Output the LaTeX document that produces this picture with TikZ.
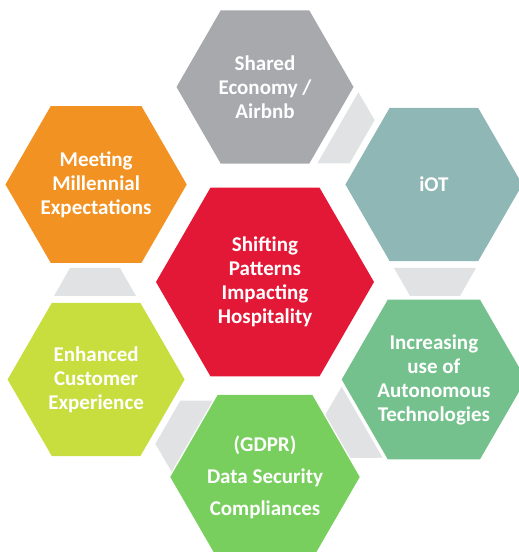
\documentclass[tikz,border=0pt]{standalone}
\usepackage{fontspec}
\setmainfont{Carlito}
\usetikzlibrary{shapes.geometric}

\definecolor{hexred}{RGB}{227,24,55}
\definecolor{hexgray}{RGB}{167,169,172}
\definecolor{hexteal}{RGB}{143,183,181}
\definecolor{hexmint}{RGB}{117,193,142}
\definecolor{hexgreen}{RGB}{120,207,94}
\definecolor{hexlime}{RGB}{199,222,62}
\definecolor{hexorange}{RGB}{242,146,34}
\definecolor{gapgray}{RGB}{225,226,228}

\begin{document}
\begin{tikzpicture}[x=1pt,y=1pt,
        hex/.style={regular polygon,regular polygon sides=6,minimum size=177pt,inner sep=0pt,
            text=white,align=center,font=\fontsize{21}{24}\selectfont\bfseries},
        gap/.style={fill=gapgray}]
        \useasboundingbox (0,0) rectangle (519,552); % рамка

        \node[hex,fill=hexred,minimum size=218pt] (hosp) at (265,270) {Shifting\\Patterns\\Impacting\\Hospitality}; % центр

        \node[hex,fill=hexgray] (shared) at (265,465) {Shared\\Economy /\\Airbnb}; % верх
        \node[hex,fill=hexteal] (iot) at (433.9,367.5) {iOT};
        \node[hex,fill=hexmint] (auto) at (433.9,172.5) {Increasing\\use of\\Autonomous\\Technologies};
        \node[hex,fill=hexgreen] (gdpr) at (265,75) {(GDPR)\\[8pt]Data Security\\[8pt]Compliances}; % низ
        \node[hex,fill=hexlime] (cx) at (96.1,172.5) {Enhanced\\Customer\\Experience};
        \node[hex,fill=hexorange] (mill) at (96.1,367.5) {Meeting\\Millennial\\Expectations};

        % перемычки
        \fill[gap,shift={(265,270)},rotate=60] (129,14) -- (211,14) -- (195,-14) -- (145,-14) -- cycle;
        \fill[gap,shift={(265,270)}] (129,14) -- (211,14) -- (195,-14) -- (145,-14) -- cycle;
        \fill[gap,shift={(265,270)},rotate=-60] (129,14) -- (211,14) -- (195,-14) -- (145,-14) -- cycle;
        \fill[gap,shift={(265,270)},rotate=-120] (129,14) -- (211,14) -- (195,-14) -- (145,-14) -- cycle;
        \fill[gap,shift={(265,270)},rotate=180] (129,14) -- (211,14) -- (195,-14) -- (145,-14) -- cycle;
    \end{tikzpicture}
\end{document}
